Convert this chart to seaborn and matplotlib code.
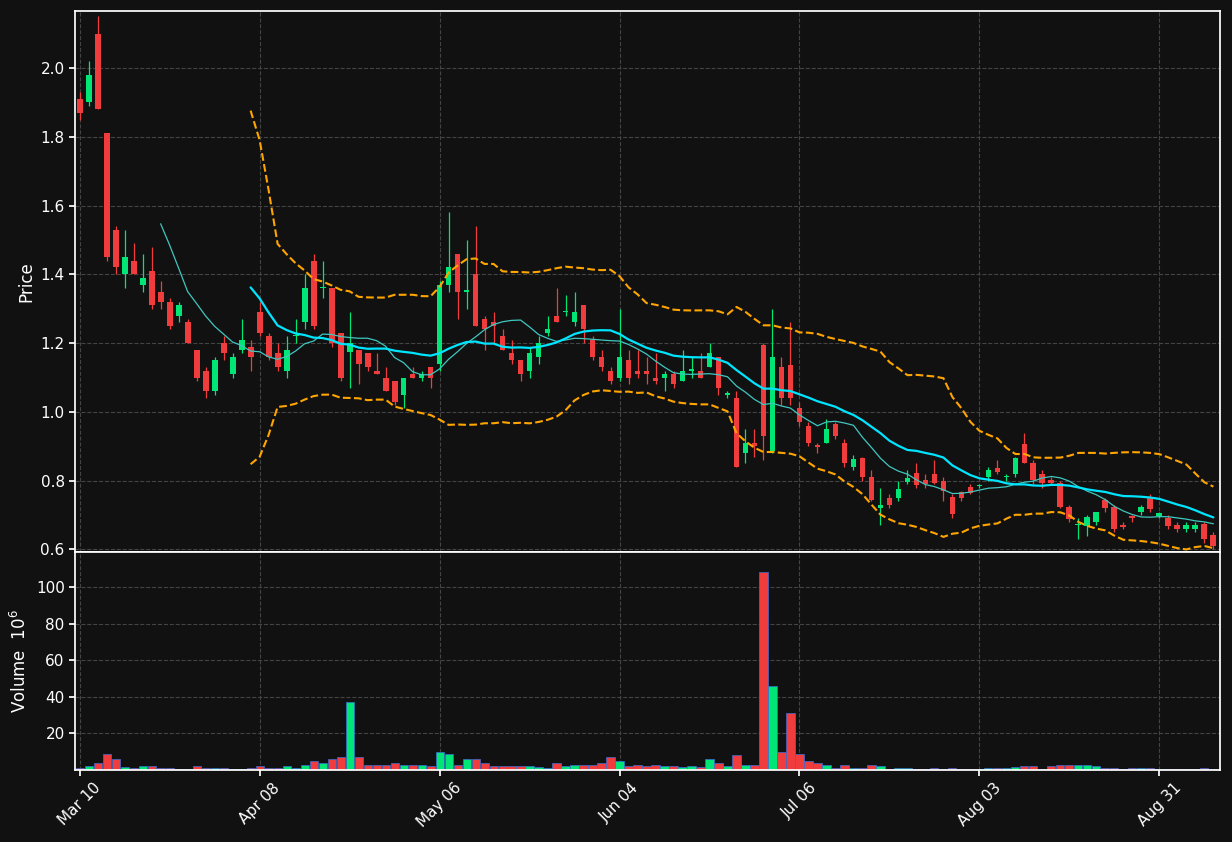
import numpy as np
import pandas as pd
import matplotlib
matplotlib.use("Agg")
import matplotlib.pyplot as plt
import seaborn as sns

opens = [1.91,1.90,2.10,1.81,1.53,1.40,1.44,1.37,1.41,1.35,1.32,1.28,1.26,1.18,1.12,1.06,1.20,1.11,1.18,1.19,
 1.29,1.22,1.17,1.12,1.22,1.26,1.44,1.36,1.36,1.23,1.175,1.18,1.17,1.12,1.10,1.09,1.05,1.11,1.10,1.13,
 1.14,1.37,1.46,1.35,1.40,1.27,1.26,1.22,1.17,1.15,1.12,1.16,1.23,1.28,1.29,1.26,1.31,1.21,1.16,1.12,
 1.10,1.15,1.12,1.12,1.10,1.10,1.11,1.09,1.12,1.12,1.13,1.16,1.05,1.04,0.88,0.91,1.195,0.886,1.13,1.136,
 1.01,0.96,0.903,0.91,0.966,0.91,0.84,0.865,0.81,0.72,0.751,0.751,0.796,0.823,0.801,0.82,0.80,0.752,0.767,0.782,
 0.784,0.81,0.838,0.811,0.818,0.908,0.852,0.82,0.801,0.794,0.722,0.670,0.668,0.68,0.743,0.722,0.669,0.696,0.709,0.749,
 0.697,0.69,0.67,0.659,0.659,0.673,0.641]
closes = [1.87,1.98,1.88,1.45,1.42,1.45,1.40,1.39,1.31,1.32,1.25,1.31,1.20,1.10,1.06,1.15,1.17,1.16,1.21,1.16,
 1.23,1.16,1.13,1.18,1.221,1.36,1.25,1.361,1.20,1.10,1.20,1.14,1.13,1.11,1.06,1.03,1.10,1.10,1.11,1.10,
 1.37,1.42,1.35,1.351,1.25,1.24,1.25,1.18,1.15,1.11,1.17,1.20,1.24,1.26,1.291,1.29,1.24,1.16,1.13,1.09,
 1.16,1.10,1.11,1.11,1.09,1.11,1.08,1.12,1.121,1.10,1.17,1.07,1.051,0.84,0.91,0.90,0.93,1.16,1.04,1.04,
 0.97,0.91,0.897,0.95,0.93,0.85,0.864,0.81,0.744,0.728,0.729,0.775,0.809,0.786,0.791,0.792,0.77,0.702,0.751,0.765,
 0.785,0.83,0.825,0.812,0.865,0.851,0.801,0.794,0.794,0.724,0.689,0.671,0.693,0.708,0.72,0.659,0.666,0.69,0.724,0.718,
 0.705,0.668,0.659,0.672,0.670,0.63,0.61]
highs = [1.93,2.02,2.15,1.81,1.54,1.53,1.49,1.46,1.48,1.38,1.33,1.32,1.27,1.18,1.13,1.16,1.22,1.17,1.27,1.21,
 1.32,1.23,1.20,1.22,1.27,1.40,1.46,1.44,1.36,1.23,1.29,1.18,1.17,1.17,1.13,1.09,1.10,1.13,1.12,1.13,
 1.38,1.58,1.46,1.50,1.54,1.28,1.29,1.24,1.21,1.15,1.19,1.22,1.28,1.36,1.34,1.35,1.31,1.22,1.18,1.13,
 1.30,1.18,1.18,1.16,1.17,1.12,1.12,1.18,1.16,1.17,1.20,1.16,1.06,1.06,0.95,0.95,1.20,1.30,1.16,1.26,
 1.03,0.97,0.91,0.98,0.97,0.92,0.875,0.87,0.83,0.78,0.76,0.80,0.83,0.85,0.82,0.86,0.81,0.76,0.77,0.79,
 0.79,0.84,0.86,0.82,0.87,0.94,0.86,0.83,0.81,0.80,0.73,0.69,0.70,0.71,0.75,0.73,0.68,0.70,0.73,0.76,
 0.71,0.70,0.68,0.68,0.68,0.68,0.65]
lows = [1.85,1.89,1.88,1.44,1.40,1.36,1.40,1.35,1.30,1.30,1.24,1.26,1.20,1.09,1.04,1.05,1.15,1.10,1.17,1.12,
 1.22,1.15,1.12,1.10,1.20,1.24,1.24,1.33,1.19,1.09,1.07,1.08,1.12,1.11,1.06,1.02,1.01,1.10,1.09,1.07,
 1.12,1.35,1.27,1.30,1.25,1.18,1.20,1.18,1.14,1.09,1.10,1.14,1.22,1.26,1.28,1.25,1.20,1.15,1.12,1.08,
 1.09,1.08,1.10,1.08,1.08,1.06,1.07,1.09,1.10,1.10,1.13,1.05,1.04,0.84,0.85,0.87,0.86,0.88,1.02,1.02,
 0.96,0.90,0.88,0.91,0.92,0.84,0.83,0.80,0.74,0.67,0.72,0.74,0.79,0.78,0.78,0.79,0.74,0.69,0.74,0.76,
 0.78,0.80,0.82,0.80,0.81,0.85,0.79,0.78,0.79,0.72,0.68,0.63,0.64,0.67,0.71,0.65,0.66,0.68,0.70,0.71,
 0.69,0.66,0.65,0.65,0.65,0.62,0.60]
volumes = [1,2,4,9,6,1.5,1,2,2,1,1,0.5,0.5,2,1,1,1,0.5,0.5,1,
 2,1,1,2,1,3,5,4,6,7,37,7,3,3,3,4,3,3,3,2,
 10,9,3,6,6,4,2,2,2,2,2,1.5,1,4,2,3,3,3,4,7,
 5,2,3,2,2.5,2,2,1.5,2,1.5,6,4,2,8,3,3,108,46,10,31,
 9,5,4,3,1,3,1,1,3,2,0.5,1,1,0.5,0.5,1,0.5,1,0.3,0.3,
 0.3,1,1,1,1.5,2,2,0.5,2,3,3,3,3,2,1,1,0.5,1,1,1,
 0.3,0.3,0.3,0.3,0.3,1,0.5]
tick_pos = [0, 20, 40, 60, 80, 100, 120]
tick_labels = ["Mar 10", "Apr 08", "May 06", "Jun 04", "Jul 06", "Aug 03", "Aug 31"]

df = pd.DataFrame(dict(o=opens, c=closes, h=highs, l=lows, v=volumes))
df["x"] = np.arange(len(df))
df["ma10"] = df.c.rolling(10).mean()
df["ma20"] = df.c.rolling(20).mean()
sd = df.c.rolling(20).std(ddof=0)
df["up"] = df.ma20 + 2 * sd
df["lo"] = df.ma20 - 2 * sd

BG = "#111111"
sns.set_theme(style="dark", rc={"axes.facecolor": BG, "figure.facecolor": BG,
                                "text.color": "white", "axes.labelcolor": "white",
                                "xtick.color": "white", "ytick.color": "white",
                                "axes.edgecolor": "white"})
plt.rcParams["font.family"] = ["DejaVu Sans"]
GREEN, RED = "#00e676", "#f03c3c"

fig = plt.figure(figsize=(12.32, 8.42), dpi=100)
ax = fig.add_axes([0.061, 0.345, 0.929, 0.642])
axv = fig.add_axes([0.061, 0.0855, 0.929, 0.2585], sharex=ax)

cols = [GREEN if c >= o else RED for o, c in zip(df.o, df.c)]
ax.vlines(df.x, df.l, df.h, colors=cols, linewidth=0.9, zorder=2)
bottom = np.minimum(df.o, df.c)
height = np.maximum(np.abs(df.c - df.o), 0.004)
ax.bar(df.x, height, bottom=bottom, width=0.65, color=cols, edgecolor=cols, linewidth=0, zorder=3)

sns.lineplot(data=df, x="x", y="ma10", ax=ax, color="#3fc7c0", linewidth=0.9, zorder=4)
sns.lineplot(data=df, x="x", y="ma20", ax=ax, color="#00e5ff", linewidth=1.6, zorder=4)
sns.lineplot(data=df, x="x", y="up", ax=ax, color="#ffa500", linewidth=1.5, linestyle="--", zorder=4)
sns.lineplot(data=df, x="x", y="lo", ax=ax, color="#ffa500", linewidth=1.5, linestyle="--", zorder=4)

ax.set_ylim(0.594, 2.166)
ax.set_xlim(-0.5, 126.7)
ax.set_ylabel("Price")
ax.set_xlabel("")
ax.grid(True, color="#444444", linestyle="--", linewidth=0.8)
ax.tick_params(axis="x", labelbottom=False, length=0)
ax.tick_params(axis="y", length=4, left=True)

axv.bar(df.x, df.v, width=0.9, color=cols, edgecolor="#3a6fd8", linewidth=0.5)
axv.set_ylim(0, 119)
axv.set_yticks([20, 40, 60, 80, 100])
axv.set_ylabel("Volume  $10^6$")
axv.grid(True, color="#444444", linestyle="--", linewidth=0.8)
axv.set_xticks(tick_pos)
axv.set_xticklabels(tick_labels, rotation=45, ha="center")
axv.tick_params(axis="both", length=4, bottom=True, left=True)
for a in (ax, axv):
    for s in a.spines.values():
        s.set_color("white")

fig.savefig("out.png", dpi=100, facecolor=BG)
